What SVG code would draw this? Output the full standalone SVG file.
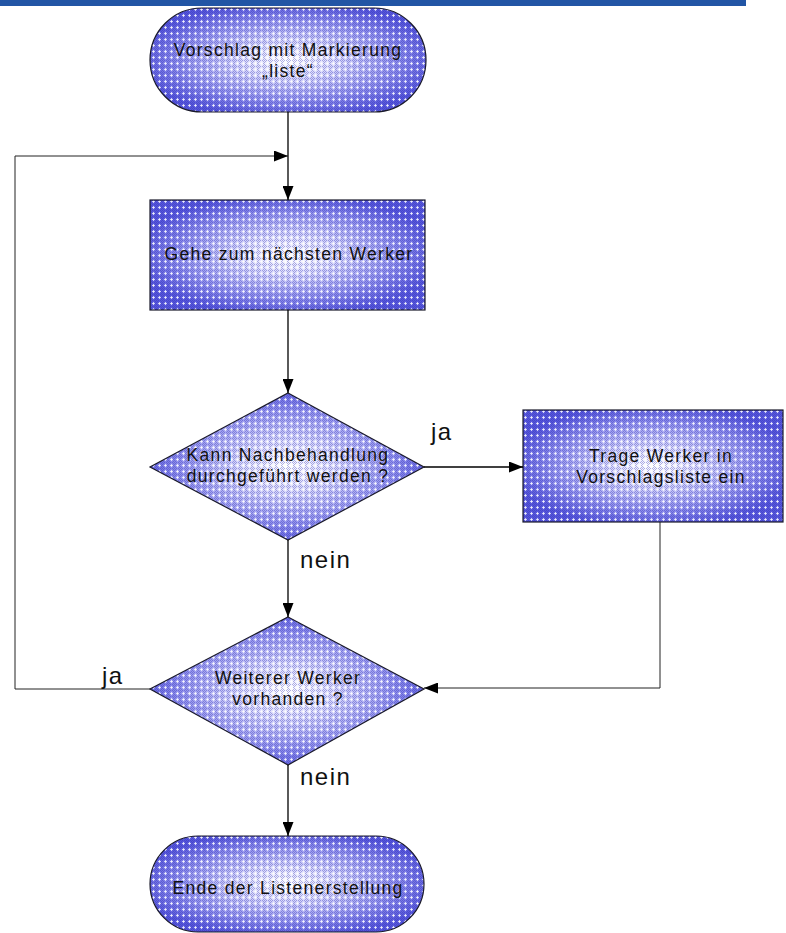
<svg xmlns="http://www.w3.org/2000/svg" width="786" height="933" viewBox="0 0 786 933">
  <defs>
    <radialGradient id="glow" cx="0.5" cy="0.5" r="0.55">
      <stop offset="0" stop-color="#ffffff"/>
      <stop offset="0.3" stop-color="#dcdcfb"/>
      <stop offset="0.7" stop-color="#9494ec"/>
      <stop offset="1" stop-color="#5858da"/>
    </radialGradient>
    <!-- dithered dot texture laid over the gradient -->
    <pattern id="dots" width="6" height="6" patternUnits="userSpaceOnUse">
      <rect x="0" y="0" width="1" height="1" fill="#2626b4" fill-opacity="0.35"/>
      <rect x="2" y="0" width="1" height="1" fill="#2626b4" fill-opacity="0.35"/>
      <rect x="4" y="0" width="1" height="1" fill="#2626b4" fill-opacity="0.35"/>
      <rect x="1" y="1" width="1" height="1" fill="#2626b4" fill-opacity="0.35"/>
      <rect x="5" y="1" width="1" height="1" fill="#2626b4" fill-opacity="0.35"/>
      <rect x="0" y="2" width="1" height="1" fill="#2626b4" fill-opacity="0.35"/>
      <rect x="0" y="4" width="1" height="1" fill="#2626b4" fill-opacity="0.35"/>
      <rect x="5" y="3" width="1" height="1" fill="#2626b4" fill-opacity="0.35"/>
      <rect x="1" y="5" width="1" height="1" fill="#2626b4" fill-opacity="0.35"/>
      <rect x="5" y="5" width="1" height="1" fill="#2626b4" fill-opacity="0.35"/>
      <rect x="3" y="2" width="1" height="3" fill="#ffffff" fill-opacity="0.7"/>
      <rect x="2" y="3" width="3" height="1" fill="#ffffff" fill-opacity="0.7"/>
    </pattern>
    <marker id="arrow" viewBox="0 0 14 11" refX="14" refY="5.5" markerWidth="14" markerHeight="11" markerUnits="userSpaceOnUse" orient="auto">
      <path d="M0,0 L14,5.5 L0,11 Z" fill="#000"/>
    </marker>
  </defs>
  <style>
    .base { fill: url(#glow); }
    .tex { fill: url(#dots); stroke: #1a1a2a; stroke-width: 1.2; }
    .lbl { font-family: "Liberation Sans", Arial, sans-serif; font-size: 17.5px; letter-spacing: 1.3px; fill: #111; text-anchor: middle; }
    .ans { font-family: "Liberation Sans", Arial, sans-serif; font-size: 24px; letter-spacing: 1.5px; fill: #111; }
    .wire { fill: none; stroke: #000; stroke-width: 1.3; }
    .thin { fill: none; stroke: #222; stroke-width: 1; }
  </style>

  <!-- header bar -->
  <rect x="0" y="0" width="746" height="6" fill="#2255a5"/>

  <g id="start">
    <rect class="base" x="150" y="8" width="276" height="104" rx="52"/>
    <rect class="tex" x="150" y="8" width="276" height="104" rx="52"/>
    <text class="lbl" x="288" y="56">Vorschlag mit Markierung</text>
    <text class="lbl" x="288" y="77">„liste“</text>
  </g>

  <g id="next-worker">
    <rect class="base" x="150" y="200" width="275" height="110"/>
    <rect class="tex" x="150" y="200" width="275" height="110"/>
    <text class="lbl" x="289" y="260">Gehe zum nächsten Werker</text>
  </g>

  <g id="check-treatment">
    <polygon class="base" points="288,393 424,467 288,540 150,467"/>
    <polygon class="tex" points="288,393 424,467 288,540 150,467"/>
    <text class="lbl" x="288" y="461">Kann Nachbehandlung</text>
    <text class="lbl" x="288" y="482">durchgeführt werden ?</text>
  </g>

  <g id="add-to-list">
    <rect class="base" x="523" y="410" width="260" height="112"/>
    <rect class="tex" x="523" y="410" width="260" height="112"/>
    <text class="lbl" x="661" y="462">Trage Werker in</text>
    <text class="lbl" x="661" y="483">Vorschlagsliste ein</text>
  </g>

  <g id="more-workers">
    <polygon class="base" points="288,617 424,689 288,765 150,689"/>
    <polygon class="tex" points="288,617 424,689 288,765 150,689"/>
    <text class="lbl" x="288" y="684">Weiterer Werker</text>
    <text class="lbl" x="288" y="705">vorhanden ?</text>
  </g>

  <g id="end">
    <rect class="base" x="150" y="836" width="274" height="96" rx="48"/>
    <rect class="tex" x="150" y="836" width="274" height="96" rx="48"/>
    <text class="lbl" x="288" y="894">Ende der Listenerstellung</text>
  </g>

  <g id="connectors">
    <path class="wire" d="M288,112 L288,200" marker-end="url(#arrow)"/>
    <path class="thin" d="M150,689 L15,689 L15,156 L288,156" marker-end="url(#arrow)"/>
    <path class="wire" d="M288,310 L288,393" marker-end="url(#arrow)"/>
    <path class="wire" d="M424,467 L523,467" marker-end="url(#arrow)"/>
    <path class="wire" d="M288,540 L288,617" marker-end="url(#arrow)"/>
    <path class="thin" d="M660,522 L660,688 L424,688" marker-end="url(#arrow)"/>
    <path class="wire" d="M288,765 L288,836" marker-end="url(#arrow)"/>
    <text class="ans" x="431" y="440">ja</text>
    <text class="ans" x="300" y="568">nein</text>
    <text class="ans" x="102" y="684">ja</text>
    <text class="ans" x="300" y="785">nein</text>
  </g>
</svg>
